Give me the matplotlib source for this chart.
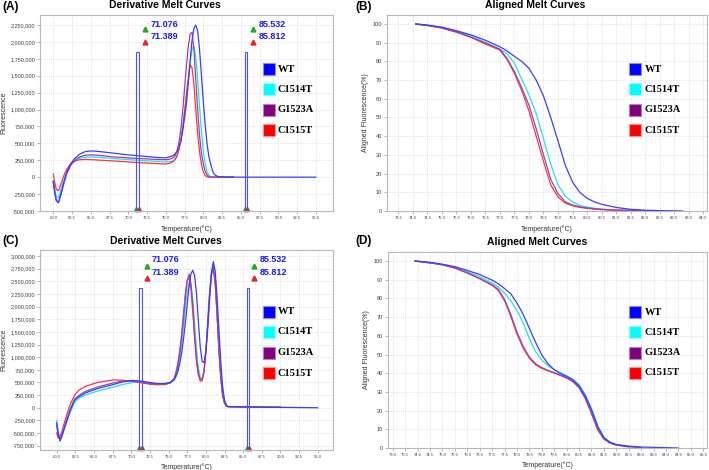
import numpy as np
import matplotlib
matplotlib.use("Agg")
import matplotlib.pyplot as plt
import matplotlib.transforms as mtransforms
from matplotlib.patches import Rectangle
from matplotlib.ticker import FuncFormatter

nan = np.nan

# samples / colours
samples = ["WT", "C1514T", "G1523A", "C1515T"]
line_colors = ["#3c3cff", "#1ae4ee", "#a040a8", "#ff3535"]
legend_colors = ["#0000ff", "#00ffff", "#800080", "#ff0000"]
legend_edges = ["#8a8aff", "#9affff", "#b485b4", "#ff9090"]

# melt region markers
start_markers = [71.076, 71.389]
end_markers = [85.532, 85.812]

# ---------------- (A) derivative melt curves, values in thousands ----------------
a_temp = [60.0, 60.2, 60.4, 60.7, 61.0, 61.4, 61.8, 62.3, 62.8, 63.5, 64.3, 65.2, 66.5, 68.0, 70.0, 72.0, 74.0, 75.0, 75.5,
          76.0, 76.25, 76.5, 76.75, 77.0, 77.25, 77.5, 77.75, 78.0, 78.25, 78.5, 78.75, 79.0, 79.25, 79.5, 79.75,
          80.0, 80.25, 80.5, 80.75, 81.0, 81.25, 81.5,
          82.0, 83.0, 84.0, 90.0, 95.0]
a_wt = [-60, -220, -340, -370, -260, -80, 70, 190, 270, 340, 380, 388, 375, 355, 330, 310, 290, 285, 300,
        320, 345, 380, 440, 525, 680, 870, 1080, 1380, 1720, 2020, 2200, 2250, 2160, 1890, 1520,
        1130, 780, 500, 300, 190, 90, 35,
        8, 2, 0, 0, 0]
a_c1514t = [-60, -190, -280, -300, -200, -50, 80, 180, 235, 280, 295, 300, 290, 275, 260, 245, 232, 225, 230,
            240, 270, 330, 410, 540, 720, 950, 1200, 1460, 1700, 1890, 1940, 1780, 1450, 1050, 680,
            390, 200, 80, 25, 8, 2, 0,
            0, 0, 0, nan, nan]
a_g1523a = [-80, -230, -350, -380, -270, -100, 50, 170, 240, 300, 325, 330, 318, 300, 285, 272, 262, 258, 265,
            285, 320, 390, 510, 700, 970, 1300, 1640, 1930, 2120, 2140, 1900, 1450, 1000, 620, 360,
            200, 90, 30, 8, 2, 0, 0,
            0, 0, 0, nan, nan]
a_c1515t = [50, -80, -180, -200, -110, 20, 120, 195, 235, 258, 262, 258, 250, 240, 225, 212, 200, 195, 205,
            230, 260, 310, 400, 540, 730, 960, 1220, 1450, 1660, 1620, 1380, 1000, 650, 380, 190,
            80, 25, 5, 0, 0, 0, 0,
            0, 0, 0, nan, nan]

# ---------------- (B) aligned melt curves (%) ----------------
b_temp = [74.1, 74.5, 75.0, 75.5, 76.0, 76.5, 77.0, 77.25, 77.5, 77.75, 78.0, 78.25, 78.5, 78.75,
          79.0, 79.25, 79.5, 79.75, 80.0, 80.25, 80.5, 81.0, 81.5, 82.0, 82.5, 83.0, 83.3]
b_wt = [100, 99.4, 98.3, 96.4, 94.2, 91.3, 87.8, 85.5, 82.7, 80.0, 76.3, 70.0, 61.5, 50.0,
        37.5, 24.5, 15.5, 10.0, 6.8, 4.9, 3.6, 1.9, 0.9, 0.4, 0.2, 0.1, 0.0]
b_c1514t = [100, 99.3, 98.1, 96.1, 93.5, 90.2, 86.5, 84.0, 79.0, 70.5, 62.0, 52.0, 38.5, 25.0,
            14.0, 8.0, 4.8, 3.0, 2.1, 1.5, 1.0, 0.4, 0.1, 0.05, nan, nan, nan]
b_g1523a = [100, 99.2, 97.9, 95.8, 93.0, 89.8, 86.5, 81.5, 74.5, 66.0, 56.5, 44.0, 30.0, 17.0,
            9.2, 5.0, 3.2, 2.2, 1.6, 1.2, 0.9, 0.5, 0.3, 0.2, 0.1, nan, nan]
b_c1515t = [100, 99.2, 97.8, 95.6, 92.8, 89.3, 86.0, 81.0, 73.5, 64.5, 53.5, 40.0, 26.5, 14.0,
            7.5, 4.2, 2.8, 1.9, 1.4, 1.0, 0.7, 0.4, 0.3, 0.2, 0.1, nan, nan]

# ---------------- (C) derivative melt curves, values in thousands ----------------
c_temp = [60.0, 60.2, 60.45, 60.7, 61.0, 61.4, 61.8, 62.4, 63.0, 63.8, 64.5, 65.5, 66.5, 67.6, 68.8, 70.3,
          71.5, 72.5, 73.5, 74.5, 75.2,
          75.75, 76.0, 76.25, 76.5, 76.75, 77.0, 77.25, 77.5, 77.75, 78.0, 78.25, 78.5, 78.75, 79.0, 79.25,
          79.5, 79.75, 80.0, 80.25, 80.5, 80.75, 81.0, 81.25, 81.5, 81.75, 82.0, 82.25, 82.5, 82.75, 83.0,
          84.0, 86.0, 88.0, 90.0, 95.0]
c_wt = [-300, -520, -655, -560, -420, -240, -60, 150, 220, 290, 330, 380, 420, 460, 510, 540,
        525, 500, 480, 480, 500,
        560, 620, 720, 870, 1080, 1350, 1680, 2050, 2400, 2650, 2720, 2600, 2250, 1700, 1200,
        920, 890, 1100, 1550, 2150, 2650, 2890, 2700, 2200, 1550, 900, 420, 150, 50, 25,
        20, 15, 10, 8, 0]
c_c1514t = [-250, -450, -620, -560, -430, -260, -90, 110, 190, 250, 285, 330, 370, 410, 460, 500,
            500, 485, 470, 470, 495,
            540, 630, 770, 970, 1250, 1600, 1980, 2300, 2470, 2450, 2150, 1650, 1150, 790, 610,
            570, 720, 1120, 1680, 2300, 2720, 2850, 2550, 1900, 1200, 640, 270, 100, 40, 22,
            18, 15, 12, 10, nan]
c_g1523a = [-350, -540, -650, -540, -390, -210, -30, 170, 245, 320, 360, 410, 450, 490, 530, 535,
            510, 480, 465, 465, 490,
            570, 680, 850, 1080, 1400, 1800, 2200, 2520, 2640, 2450, 2000, 1450, 960, 680, 560,
            560, 730, 1120, 1650, 2220, 2620, 2780, 2500, 1850, 1150, 600, 250, 90, 35, 20,
            18, 15, 12, 10, nan]
c_c1515t = [-500, -600, -560, -470, -310, -120, 60, 250, 350, 420, 455, 500, 525, 550, 545, 520,
            490, 465, 455, 460, 490,
            580, 700, 880, 1120, 1450, 1850, 2250, 2520, 2570, 2350, 1900, 1350, 900, 640, 530,
            530, 700, 1100, 1650, 2250, 2650, 2750, 2450, 1850, 1150, 600, 250, 90, 35, 20,
            18, 15, 12, 10, nan]

# ---------------- (D) aligned melt curves (%) ----------------
d_temp = [73.9, 74.5, 75.0, 75.5, 76.0, 76.5, 77.0, 77.25, 77.5, 77.75, 78.0, 78.25, 78.5, 78.75, 79.0,
          79.25, 79.5, 79.75, 80.0, 80.25, 80.5, 80.75, 81.0, 81.25, 81.5, 81.75, 82.0, 82.5, 83.0, 84.0, 84.5]
d_wt = [100, 99.3, 98.3, 97.0, 95.0, 92.8, 89.8, 87.8, 85.3, 82.5, 77.5, 71.5, 64.0, 56.5, 49.8,
        45.0, 41.8, 39.8, 38.3, 36.5, 33.2, 28.0, 20.5, 11.5, 5.5, 3.0, 1.8, 1.0, 0.5, 0.2, 0.0]
d_c1514t = [100, 99.1, 98.1, 96.6, 94.3, 91.6, 88.2, 86.0, 82.8, 78.8, 73.5, 67.0, 58.5, 51.5, 47.0,
            44.0, 42.0, 40.3, 38.7, 36.8, 33.9, 28.5, 21.0, 12.0, 5.8, 3.1, 1.9, 0.8, 0.3, nan, nan]
d_g1523a = [100, 99.0, 98.0, 96.3, 93.7, 90.7, 87.3, 84.8, 79.5, 71.5, 62.0, 54.3, 48.6, 45.0, 43.0,
            41.5, 40.3, 39.0, 37.6, 35.7, 32.5, 26.8, 18.8, 10.0, 4.9, 2.7, 1.6, 0.7, 0.2, nan, nan]
d_c1515t = [100, 99.0, 98.0, 96.2, 93.6, 90.5, 87.0, 84.3, 78.8, 70.5, 61.0, 53.5, 48.0, 44.5, 42.6,
            41.3, 40.1, 38.8, 37.4, 35.5, 32.3, 26.5, 18.5, 9.8, 4.8, 2.6, 1.6, 0.6, nan, nan, nan]

SANS = "Liberation Sans"
SERIF = "Liberation Serif"
draw_order = [1, 3, 2, 0]


def style_axes(ax):
    for s in ax.spines.values():
        s.set_color("#b8b8b8")
        s.set_linewidth(0.8)
    ax.grid(True, color="#dadada", linestyle=(0, (1.5, 1.5)), linewidth=0.5)
    ax.set_axisbelow(True)
    ax.tick_params(length=2, width=0.5, color="#999999", labelcolor="#404040", pad=1.5)
    ax.tick_params(axis="x", labelsize=3)
    ax.tick_params(axis="y", labelsize=4)
    for lab in ax.get_xticklabels() + ax.get_yticklabels():
        lab.set_family(SANS)


def add_legend(ax, x0, rows, w, h, tx):
    for name, fc, ec, y in zip(samples, legend_colors, legend_edges, rows):
        ax.add_patch(Rectangle((x0, y - h / 2), w, h, transform=ax.transAxes,
                               facecolor=fc, edgecolor=ec, lw=0.8, zorder=5))
        ax.text(tx, y, name, transform=ax.transAxes, fontsize=7.5, fontweight="bold",
                family=SERIF, va="center", ha="left", zorder=5)


def add_markers(ax, top, tri_x, txt_x, tri_y, txt_y):
    trans = mtransforms.blended_transform_factory(ax.transData, ax.transAxes)
    bottom = ax.get_ylim()[0]
    for pair, tx, lx in [(start_markers, tri_x[0], txt_x[0]), (end_markers, tri_x[1], txt_x[1])]:
        ax.add_patch(Rectangle((pair[0], bottom), pair[1] - pair[0], top - bottom,
                               fill=False, edgecolor="#4f4fff", lw=0.8, zorder=4))
        ax.plot([tx], [tri_y[0]], marker="^", color="#22aa22", ms=3.5, transform=trans, clip_on=False)
        ax.plot([tx], [tri_y[1]], marker="^", color="#ee2020", ms=3.5, transform=trans, clip_on=False)
        ax.text(lx, txt_y[0], f"{pair[0]:.3f}", transform=trans, color="#1a1aff", fontsize=6.5,
                fontweight="bold", family=SANS, va="center")
        ax.text(lx, txt_y[1], f"{pair[1]:.3f}", transform=trans, color="#1a1aff", fontsize=6.5,
                fontweight="bold", family=SANS, va="center")
        # small flags at the bottom of the region
        ax.plot([pair[0]], [0.012], marker="^", color="#22aa22", ms=3, transform=trans, clip_on=False)
        ax.plot([pair[1]], [0.012], marker="^", color="#ee2020", ms=3, transform=trans, clip_on=False)


fig = plt.figure(figsize=(7.09, 4.70), dpi=100)
fig.patch.set_facecolor("white")

ax_a = fig.add_axes([0.0564, 0.5511, 0.4133, 0.4170])
ax_b = fig.add_axes([0.5454, 0.5511, 0.4513, 0.4170])
ax_c = fig.add_axes([0.0564, 0.0426, 0.4133, 0.4255])
ax_d = fig.add_axes([0.5473, 0.0468, 0.4495, 0.4177])

thousands = FuncFormatter(lambda v, p: f"{v:,.0f}")
one_dec = FuncFormatter(lambda v, p: f"{v:.1f}")

# derivative panels
for ax, temp, series, ylim, yticks in [
    (ax_a, a_temp, [a_wt, a_c1514t, a_g1523a, a_c1515t], (-500000, 2398000), np.arange(-500000, 2250001, 250000)),
    (ax_c, c_temp, [c_wt, c_c1514t, c_g1523a, c_c1515t], (-835000, 3120000), np.arange(-750000, 3000001, 250000)),
]:
    for i in draw_order:
        ax.plot(temp, np.array(series[i], dtype=float) * 1000, color=line_colors[i], lw=0.9)
    ax.set_ylim(*ylim)
    ax.set_yticks(yticks)
    ax.set_xticks(np.arange(60, 95.01, 2.5))
    ax.yaxis.set_major_formatter(thousands)
    ax.xaxis.set_major_formatter(one_dec)
    style_axes(ax)
    ax.set_ylabel("Fluorescence", fontsize=5, family=SANS, color="#333333")
    ax.set_xlabel("Temperature(°C)", fontsize=5, family=SANS, color="#333333")
    ax.yaxis.set_label_coords(-0.113, 0.5)

ax_a.set_xlim(58.23, 97.3)
ax_c.set_xlim(57.76, 97.05)
ax_a.xaxis.set_label_coords(0.5, -0.072)
ax_c.xaxis.set_label_coords(0.5, -0.066)

add_markers(ax_a, 1850000, [72.27, 86.67], [72.95, 87.35], [0.927, 0.864], [0.954, 0.891])
add_markers(ax_c, 2370000, [72.07, 86.5], [72.75, 87.17], [0.92, 0.858], [0.95, 0.887])

# aligned panels
for ax, temp, series, xlim, xticks in [
    (ax_b, b_temp, [b_wt, b_c1514t, b_g1523a, b_c1515t], (73.1, 84.12), np.arange(73.5, 84.01, 0.5)),
    (ax_d, d_temp, [d_wt, d_c1514t, d_g1523a, d_c1515t], (72.81, 85.64), np.arange(73.0, 85.51, 0.5)),
]:
    for i in draw_order:
        ax.plot(temp, series[i], color=line_colors[i], lw=0.9)
    ax.set_xlim(*xlim)
    ax.set_xticks(xticks)
    ax.set_yticks(np.arange(0, 101, 10))
    ax.xaxis.set_major_formatter(one_dec)
    style_axes(ax)
    ax.set_ylabel("Aligned Fluorescence(%)", fontsize=5, family=SANS, color="#333333")
    ax.set_xlabel("Temperature(°C)", fontsize=5, family=SANS, color="#333333")

ax_b.set_ylim(0, 104.8)
ax_d.set_ylim(0, 105)
ax_b.yaxis.set_label_coords(-0.055, 0.5)
ax_d.yaxis.set_label_coords(-0.056, 0.5)
ax_b.xaxis.set_label_coords(0.5, -0.074)
ax_d.xaxis.set_label_coords(0.5, -0.07)

# legends
rows_top = [0.724, 0.620, 0.516, 0.413]
rows_bot = [0.692, 0.590, 0.486, 0.384]
add_legend(ax_a, 0.761, rows_top, 0.041, 0.061, 0.812)
add_legend(ax_b, 0.757, rows_top, 0.0375, 0.061, 0.807)
add_legend(ax_c, 0.761, rows_bot, 0.041, 0.060, 0.812)
add_legend(ax_d, 0.756, rows_bot, 0.0375, 0.061, 0.806)

# titles
for ax, title, x, y in [(ax_a, "Derivative Melt Curves", 0.427, 1.051),
                        (ax_b, "Aligned Melt Curves", 0.463, 1.051),
                        (ax_c, "Derivative Melt Curves", 0.429, 1.046),
                        (ax_d, "Aligned Melt Curves", 0.467, 1.048)]:
    ax.text(x, y, title, transform=ax.transAxes, fontsize=7.5, fontweight="bold",
            family=SANS, ha="center", va="center")

# panel letters
for lab, x, y in [("(A)", 2, 7), ("(B)", 355, 7), ("(C)", 2, 241), ("(D)", 355, 241)]:
    fig.text(x / 709, 1 - y / 470, lab, fontsize=8.5, fontweight="bold", family=SANS,
             ha="left", va="center")

fig.savefig("out.png", dpi=100)
